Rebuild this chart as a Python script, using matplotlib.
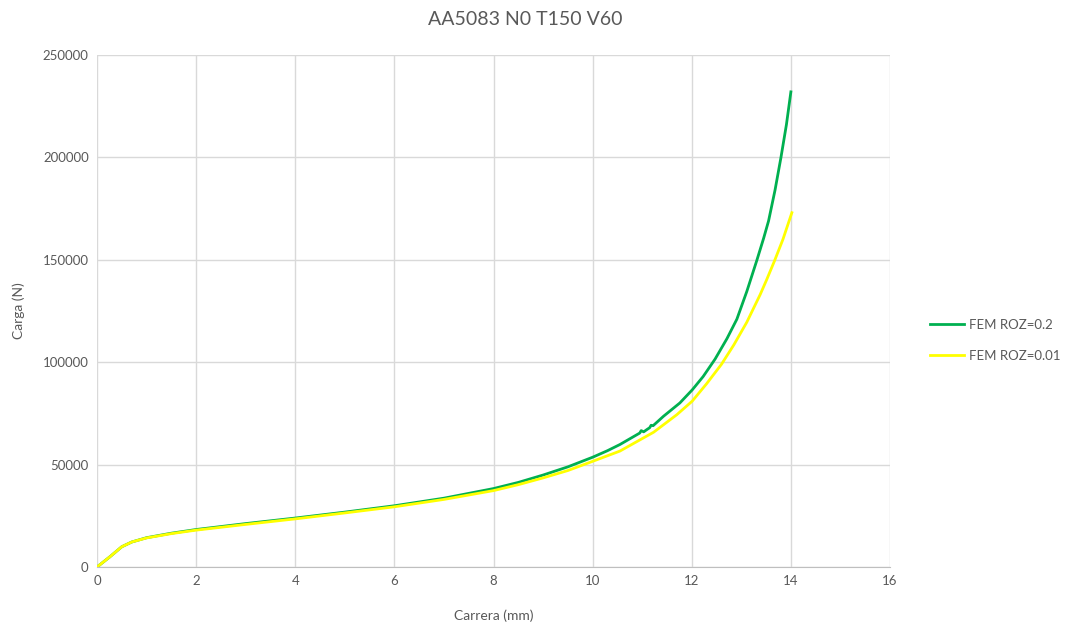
import matplotlib
matplotlib.use("Agg")
import matplotlib.pyplot as plt

# FEM ROZ=0.2 (green)
x_roz02 = [0, 0.25, 0.5, 0.7, 1.0, 1.5, 2, 3, 4, 5, 6, 7, 8, 8.5, 9, 9.5,
           10, 10.3, 10.55, 10.8, 10.95, 10.98, 11.03, 11.1, 11.15, 11.18,
           11.22, 11.43, 11.76, 12.01, 12.23, 12.47, 12.71, 12.91, 13.11,
           13.31, 13.45, 13.55, 13.68, 13.8, 13.91, 14.0]
y_roz02 = [0, 4800, 9900, 12200, 14300, 16500, 18300, 21200, 23900, 26800,
           29900, 33600, 38300, 41300, 44900, 48900, 53600, 56800, 59800,
           63300, 65400, 66600, 66000, 67200, 68000, 69200, 69000, 73600,
           80100, 86500, 93000, 101500, 111500, 121000, 134500, 149500,
           160500, 169000, 184000, 200000, 216000, 232000]

# FEM ROZ=0.01 (yellow)
x_roz001 = [0, 0.25, 0.5, 0.7, 1.0, 1.5, 2, 3, 4, 5, 6, 7, 8, 8.5, 9, 9.5,
            10, 10.55, 11.23, 11.7, 12.01, 12.3, 12.6, 12.85, 13.11, 13.38,
            13.51, 13.67, 13.84, 14.02]
y_roz001 = [0, 4800, 9900, 12200, 14200, 16300, 18000, 20800, 23500, 26400,
            29400, 33000, 37300, 40200, 43500, 47100, 51600, 56600, 65800,
            74400, 81000, 89500, 99000, 108500, 119500, 133000, 140200,
            149500, 160000, 173000]

gray = '#595959'
plt.rcParams['font.family'] = ['Lato', 'DejaVu Sans']

fig = plt.figure(figsize=(10.71, 6.3), dpi=100)
ax = fig.add_axes([0.0906, 0.1, 0.7404, 0.8127])

ax.plot(x_roz02, y_roz02, color='#00B050', lw=2.0, label='FEM ROZ=0.2')
ax.plot(x_roz001, y_roz001, color='#FFFF00', lw=2.0, label='FEM ROZ=0.01')

ax.set_xlim(0, 16)
ax.set_ylim(0, 250000)
ax.set_xticks(range(0, 17, 2))
ax.set_yticks(range(0, 250001, 50000))
ax.grid(True, color='#d9d9d9', lw=1.0)
ax.set_axisbelow(True)
for s in ['top', 'right', 'left']:
    ax.spines[s].set_visible(False)
ax.spines['bottom'].set_color('#bfbfbf')
ax.tick_params(length=0, labelsize=9.5, colors=gray, pad=6)

ax.set_xlabel('Carrera (mm)', fontsize=10, color=gray, labelpad=16)
ax.set_ylabel('Carga (N)', fontsize=10, color=gray, labelpad=13)
fig.suptitle('AA5083 N0 T150 V60', x=0.49, y=0.982, fontsize=14, color=gray)

leg = ax.legend(loc='center left', bbox_to_anchor=(1.035, 0.443), frameon=False,
                fontsize=9.5, handlelength=2.6, labelspacing=1.45,
                handletextpad=0.4)
for t in leg.get_texts():
    t.set_color(gray)

plt.savefig('out.png', dpi=100)
